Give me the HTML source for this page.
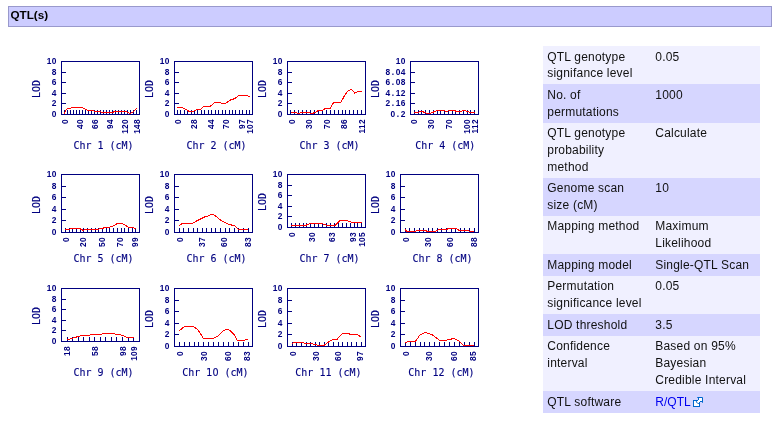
<!DOCTYPE html>
<html lang="en"><head><meta charset="utf-8"><title>QTL(s)</title>
<style>
html,body{margin:0;padding:0;background:#fff;}
#hdrw,#infow{position:absolute;left:0;top:0;width:779px;height:433px;will-change:transform;}
body{width:779px;height:433px;position:relative;overflow:hidden;font-family:"Liberation Sans",Arial,Helvetica,sans-serif;font-size:12px;color:#000;}
#hdr{position:absolute;left:8px;top:6px;width:760.5px;height:19px;line-height:16px;border:1px solid #9999cc;background:#ccccff;padding-left:1.5px;font-weight:bold;font-size:11.7px;color:#000;}
svg.qtl{position:absolute;overflow:visible;}
svg.qtl .tk{font-family:"Liberation Sans", Arial, sans-serif;font-weight:bold;font-size:8.4px;letter-spacing:0.33px;fill:#000080;}
svg.qtl .dg{font-family:"DejaVu Sans","Liberation Sans",sans-serif;font-size:9.6px;}
svg.qtl .tt{font-family:"DejaVu Sans Mono", "Liberation Mono", monospace;font-size:10px;fill:#000080;stroke:#000080;stroke-width:0.12px;}
#info{position:absolute;left:543px;top:46px;width:217px;border-collapse:collapse;border-spacing:0;table-layout:fixed;}
#info td{padding:2.5px 4px 2.4px 4.3px;line-height:16.7px;vertical-align:top;font-size:12px;color:#111;letter-spacing:0.2px;white-space:nowrap;overflow:hidden;}
#info tr:last-child td{padding-top:3.4px;}
#info tr.a{background:#f0f0ff;}
#info tr.b{background:#d6d6ff;}
#info a{color:#0000f0;text-decoration:none;letter-spacing:0;}
svg.ext{display:inline-block;margin-left:2.5px;vertical-align:-1px;}
</style></head><body>
<div id="hdrw"><div id="hdr">QTL(s)</div></div>
<div id="plots">
<svg class="qtl" style="left:30px;top:52px" width="113" height="113" viewBox="30 52 113 113">
<g stroke="#000080" stroke-width="1" fill="none" shape-rendering="crispEdges"><rect x="61.5" y="61.5" width="78" height="53"/><path d="M61.5 72.5h4.5M61.5 82.5h4.5M61.5 93.5h4.5M61.5 103.5h4.5M64.5 114.5v-5M67.5 114.5v-5M70.5 114.5v-5M73.5 114.5v-5M76.5 114.5v-5M79.5 114.5v-5M82.5 114.5v-5M85.5 114.5v-5M88.5 114.5v-5M91.5 114.5v-5M94.5 114.5v-5M97.5 114.5v-5M100.5 114.5v-5M103.5 114.5v-5M106.5 114.5v-5M109.5 114.5v-5M112.5 114.5v-5M115.5 114.5v-5M118.5 114.5v-5M121.5 114.5v-5M124.5 114.5v-5M127.5 114.5v-5M130.5 114.5v-5M133.5 114.5v-5M136.5 114.5v-5"/></g>
<polyline points="64,113.8 66.3,109.2 72.5,107.6 82.6,107.6 87.2,110.2 91.9,110.7 102.7,112.2 113.5,112.2 114.3,111.3 125.9,111.3 129.7,113.3 132,112.9 136.7,108.2" fill="none" stroke="#ff0000" stroke-width="1" stroke-linejoin="round" shape-rendering="crispEdges"/>
<g class="tk" text-anchor="end"><text transform="translate(56.8 64.1) scale(1 1)">10</text><text transform="translate(56.8 75.1) scale(1 1)">8</text><text transform="translate(56.8 85.1) scale(1 1)">6</text><text transform="translate(56.8 96.1) scale(1 1)">4</text><text transform="translate(56.8 106.1) scale(1 1)">2</text><text transform="translate(56.8 117.1) scale(1 1)">0</text></g>
<g class="tk" text-anchor="end"><text transform="translate(67.95 118.9) rotate(-90) scale(1 1)">0</text><text transform="translate(82.95 118.9) rotate(-90) scale(1 1)">40</text><text transform="translate(97.95 118.9) rotate(-90) scale(1 1)">66</text><text transform="translate(112.95 118.9) rotate(-90) scale(1 1)">94</text><text transform="translate(127.95 118.9) rotate(-90) scale(1 1)">120</text><text transform="translate(140.1 118.9) rotate(-90) scale(1 1)">148</text></g>
<text class="tt" text-anchor="middle" transform="translate(40.3 89) rotate(-90) scale(1 1.1)">LOD</text>
<text class="tt" text-anchor="middle" transform="translate(103.5 148.9) scale(1 1.1)">Chr 1 (cM)</text>
</svg>
<svg class="qtl" style="left:143px;top:52px" width="113" height="113" viewBox="143 52 113 113">
<g stroke="#000080" stroke-width="1" fill="none" shape-rendering="crispEdges"><rect x="174.5" y="61.5" width="78" height="53"/><path d="M174.5 72.5h4.5M174.5 82.5h4.5M174.5 93.5h4.5M174.5 103.5h4.5M177.5 114.5v-5M180.5 114.5v-5M184.5 114.5v-5M187.5 114.5v-5M191.5 114.5v-5M194.5 114.5v-5M197.5 114.5v-5M201.5 114.5v-5M204.5 114.5v-5M208.5 114.5v-5M211.5 114.5v-5M215.5 114.5v-5M218.5 114.5v-5M222.5 114.5v-5M225.5 114.5v-5M229.5 114.5v-5M232.5 114.5v-5M235.5 114.5v-5M239.5 114.5v-5M242.5 114.5v-5M246.5 114.5v-5M249.5 114.5v-5"/></g>
<polyline points="177.1,107.3 182,107.3 189.5,111.5 193.3,111.5 197.2,109.4 200.3,109.4 203.7,106.3 210.4,106.3 214.2,102.7 219.6,102.2 222,103.5 225,103.5 231.2,99.6 234.3,98.8 239,95.4 245.9,95.1 248.2,96.2 250.1,96.2" fill="none" stroke="#ff0000" stroke-width="1" stroke-linejoin="round" shape-rendering="crispEdges"/>
<g class="tk" text-anchor="end"><text transform="translate(169.8 64.1) scale(1 1)">10</text><text transform="translate(169.8 75.1) scale(1 1)">8</text><text transform="translate(169.8 85.1) scale(1 1)">6</text><text transform="translate(169.8 96.1) scale(1 1)">4</text><text transform="translate(169.8 106.1) scale(1 1)">2</text><text transform="translate(169.8 117.1) scale(1 1)">0</text></g>
<g class="tk" text-anchor="end"><text transform="translate(180.5 118.9) rotate(-90) scale(1 1)">0</text><text transform="translate(196.9 118.9) rotate(-90) scale(1 1)">28</text><text transform="translate(213.9 118.9) rotate(-90) scale(1 1)">44</text><text transform="translate(229.4 118.9) rotate(-90) scale(1 1)">70</text><text transform="translate(245.2 118.9) rotate(-90) scale(1 1)">97</text><text transform="translate(252.9 118.9) rotate(-90) scale(1 1)">107</text></g>
<text class="tt" text-anchor="middle" transform="translate(153.3 89) rotate(-90) scale(1 1.1)">LOD</text>
<text class="tt" text-anchor="middle" transform="translate(216.5 148.9) scale(1 1.1)">Chr 2 (cM)</text>
</svg>
<svg class="qtl" style="left:256px;top:52px" width="113" height="113" viewBox="256 52 113 113">
<g stroke="#000080" stroke-width="1" fill="none" shape-rendering="crispEdges"><rect x="287.5" y="61.5" width="78" height="53"/><path d="M287.5 72.5h4.5M287.5 82.5h4.5M287.5 93.5h4.5M287.5 103.5h4.5M290.5 114.5v-5M294.5 114.5v-5M298.5 114.5v-5M302.5 114.5v-5M306.5 114.5v-5M310.5 114.5v-5M314.5 114.5v-5M318.5 114.5v-5M322.5 114.5v-5M326.5 114.5v-5M330.5 114.5v-5M334.5 114.5v-5M338.5 114.5v-5M342.5 114.5v-5M345.5 114.5v-5M349.5 114.5v-5M353.5 114.5v-5M357.5 114.5v-5M361.5 114.5v-5"/></g>
<polyline points="290.9,112.4 295.5,112.4 298.3,113.5 301.4,112.4 309.1,112.4 311.4,113.5 314.5,112.8 318.4,110.4 322.3,110.4 326.1,108.1 330.5,108.1 333.6,102.4 340.8,102.4 344.7,95.4 347.8,91.1 350.9,89.3 352.7,90.3 354.7,93.1 357.8,91.4 361.7,91.4" fill="none" stroke="#ff0000" stroke-width="1" stroke-linejoin="round" shape-rendering="crispEdges"/>
<g class="tk" text-anchor="end"><text transform="translate(282.8 64.1) scale(1 1)">10</text><text transform="translate(282.8 75.1) scale(1 1)">8</text><text transform="translate(282.8 85.1) scale(1 1)">6</text><text transform="translate(282.8 96.1) scale(1 1)">4</text><text transform="translate(282.8 106.1) scale(1 1)">2</text><text transform="translate(282.8 117.1) scale(1 1)">0</text></g>
<g class="tk" text-anchor="end"><text transform="translate(294.5 118.9) rotate(-90) scale(1 1)">0</text><text transform="translate(311.8 118.9) rotate(-90) scale(1 1)">30</text><text transform="translate(329.6 118.9) rotate(-90) scale(1 1)">70</text><text transform="translate(347 118.9) rotate(-90) scale(1 1)">86</text><text transform="translate(364.7 118.9) rotate(-90) scale(1 1)">112</text></g>
<text class="tt" text-anchor="middle" transform="translate(266.3 89) rotate(-90) scale(1 1.1)">LOD</text>
<text class="tt" text-anchor="middle" transform="translate(329.5 148.9) scale(1 1.1)">Chr 3 (cM)</text>
</svg>
<svg class="qtl" style="left:369px;top:52px" width="113" height="113" viewBox="369 52 113 113">
<g stroke="#000080" stroke-width="1" fill="none" shape-rendering="crispEdges"><rect x="410.5" y="61.5" width="68" height="53"/><path d="M410.5 72.5h4.5M410.5 82.5h4.5M410.5 93.5h4.5M410.5 103.5h4.5M414.5 114.5v-5M418.5 114.5v-5M421.5 114.5v-5M425.5 114.5v-5M429.5 114.5v-5M433.5 114.5v-5M437.5 114.5v-5M440.5 114.5v-5M444.5 114.5v-5M448.5 114.5v-5M452.5 114.5v-5M455.5 114.5v-5M459.5 114.5v-5M463.5 114.5v-5M467.5 114.5v-5M470.5 114.5v-5M474.5 114.5v-5"/></g>
<polyline points="414.4,112.4 418.3,112.4 421.3,111.2 427.5,113.5 430.6,113.1 437.6,110.4 443,110.4 446.1,111.5 450,110.4 453.8,110.4 456.9,111.5 460.8,111.2 464.6,110.4 468.5,112 474.7,112.4" fill="none" stroke="#ff0000" stroke-width="1" stroke-linejoin="round" shape-rendering="crispEdges"/>
<g class="tk" text-anchor="end"><text transform="translate(405.8 64.1) scale(1 1)">10</text><text transform="translate(405.8 75.1) scale(1 1)">8<tspan dx="1.3">.</tspan><tspan dx="1.3">04</tspan></text><text transform="translate(405.8 85.1) scale(1 1)">6<tspan dx="1.3">.</tspan><tspan dx="1.3">08</tspan></text><text transform="translate(405.8 96.1) scale(1 1)">4<tspan dx="1.3">.</tspan><tspan dx="1.3">12</tspan></text><text transform="translate(405.8 106.1) scale(1 1)">2<tspan dx="1.3">.</tspan><tspan dx="1.3">16</tspan></text><text transform="translate(405.8 117.1) scale(1 1)">0<tspan dx="1.3">.</tspan><tspan dx="1.3">2</tspan></text></g>
<g class="tk" text-anchor="end"><text transform="translate(417.4 118.9) rotate(-90) scale(1 1)">0</text><text transform="translate(434.4 118.9) rotate(-90) scale(1 1)">30</text><text transform="translate(451.8 118.9) rotate(-90) scale(1 1)">70</text><text transform="translate(469.9 118.9) rotate(-90) scale(1 1)">100</text><text transform="translate(477.7 118.9) rotate(-90) scale(1 1)">112</text></g>
<text class="tt" text-anchor="middle" transform="translate(379.3 89) rotate(-90) scale(1 1.1)">LOD</text>
<text class="tt" text-anchor="middle" transform="translate(445.3 148.9) scale(1 1.1)">Chr 4 (cM)</text>
</svg>
<svg class="qtl" style="left:30px;top:165px" width="113" height="113" viewBox="30 165 113 113">
<g stroke="#000080" stroke-width="1" fill="none" shape-rendering="crispEdges"><rect x="61.5" y="174.5" width="78" height="58"/><path d="M61.5 186.5h4.5M61.5 197.5h4.5M61.5 209.5h4.5M61.5 220.5h4.5M65.5 232.5v-5M69.5 232.5v-5M72.5 232.5v-5M76.5 232.5v-5M80.5 232.5v-5M83.5 232.5v-5M87.5 232.5v-5M91.5 232.5v-5M95.5 232.5v-5M98.5 232.5v-5M102.5 232.5v-5M106.5 232.5v-5M109.5 232.5v-5M113.5 232.5v-5M117.5 232.5v-5M121.5 232.5v-5M124.5 232.5v-5M128.5 232.5v-5M132.5 232.5v-5M135.5 232.5v-5"/></g>
<polyline points="65.3,229.6 68.7,229.6 71,228.5 79.5,228.5 83.3,230.4 86.4,229.3 98,229.3 101.9,228.5 105.8,227.3 109.6,227.3 113.5,225.8 117.4,223.4 121.2,223.4 125.1,225 128.2,227.3 132.8,227.6 135.9,228.9" fill="none" stroke="#ff0000" stroke-width="1" stroke-linejoin="round" shape-rendering="crispEdges"/>
<g class="tk" text-anchor="end"><text transform="translate(56.8 177.1) scale(1 1)">10</text><text transform="translate(56.8 189.1) scale(1 1)">8</text><text transform="translate(56.8 200.1) scale(1 1)">6</text><text transform="translate(56.8 212.1) scale(1 1)">4</text><text transform="translate(56.8 223.1) scale(1 1)">2</text><text transform="translate(56.8 235.1) scale(1 1)">0</text></g>
<g class="tk" text-anchor="end"><text transform="translate(68.5 236.9) rotate(-90) scale(1 1)">0</text><text transform="translate(86.1 236.9) rotate(-90) scale(1 1)">20</text><text transform="translate(105.1 236.9) rotate(-90) scale(1 1)">50</text><text transform="translate(122.9 236.9) rotate(-90) scale(1 1)">70</text><text transform="translate(138.3 236.9) rotate(-90) scale(1 1)">99</text></g>
<text class="tt" text-anchor="middle" transform="translate(40.3 205) rotate(-90) scale(1 1.1)">LOD</text>
<text class="tt" text-anchor="middle" transform="translate(103.5 261.8) scale(1 1.1)">Chr 5 (cM)</text>
</svg>
<svg class="qtl" style="left:143px;top:165px" width="113" height="113" viewBox="143 165 113 113">
<g stroke="#000080" stroke-width="1" fill="none" shape-rendering="crispEdges"><rect x="174.5" y="174.5" width="78" height="58"/><path d="M174.5 186.5h4.5M174.5 197.5h4.5M174.5 209.5h4.5M174.5 220.5h4.5M179.5 232.5v-5M183.5 232.5v-5M188.5 232.5v-5M193.5 232.5v-5M197.5 232.5v-5M202.5 232.5v-5M206.5 232.5v-5M211.5 232.5v-5M215.5 232.5v-5M220.5 232.5v-5M225.5 232.5v-5M229.5 232.5v-5M234.5 232.5v-5M238.5 232.5v-5M243.5 232.5v-5M248.5 232.5v-5"/></g>
<polyline points="179.3,225.5 182.4,223.4 192.5,223.4 196.3,221.1 204.9,216.8 207.9,216.2 211,214.2 214.9,215.4 221.9,221.1 225,222.4 228.8,224.5 234.2,225.5 238.1,229.2 248.1,229.2" fill="none" stroke="#ff0000" stroke-width="1" stroke-linejoin="round" shape-rendering="crispEdges"/>
<g class="tk" text-anchor="end"><text transform="translate(169.8 177.1) scale(1 1)">10</text><text transform="translate(169.8 189.1) scale(1 1)">8</text><text transform="translate(169.8 200.1) scale(1 1)">6</text><text transform="translate(169.8 212.1) scale(1 1)">4</text><text transform="translate(169.8 223.1) scale(1 1)">2</text><text transform="translate(169.8 235.1) scale(1 1)">0</text></g>
<g class="tk" text-anchor="end"><text transform="translate(182.5 236.9) rotate(-90) scale(1 1)">0</text><text transform="translate(205.3 236.9) rotate(-90) scale(1 1)">37</text><text transform="translate(227.4 236.9) rotate(-90) scale(1 1)">60</text><text transform="translate(250.6 236.9) rotate(-90) scale(1 1)">83</text></g>
<text class="tt" text-anchor="middle" transform="translate(153.3 205) rotate(-90) scale(1 1.1)">LOD</text>
<text class="tt" text-anchor="middle" transform="translate(216.5 261.8) scale(1 1.1)">Chr 6 (cM)</text>
</svg>
<svg class="qtl" style="left:256px;top:165px" width="113" height="113" viewBox="256 165 113 113">
<g stroke="#000080" stroke-width="1" fill="none" shape-rendering="crispEdges"><rect x="287.5" y="174.5" width="78" height="53"/><path d="M287.5 185.5h4.5M287.5 195.5h4.5M287.5 206.5h4.5M287.5 216.5h4.5M291.5 227.5v-5M295.5 227.5v-5M299.5 227.5v-5M303.5 227.5v-5M306.5 227.5v-5M310.5 227.5v-5M314.5 227.5v-5M318.5 227.5v-5M322.5 227.5v-5M326.5 227.5v-5M330.5 227.5v-5M334.5 227.5v-5M338.5 227.5v-5M342.5 227.5v-5M346.5 227.5v-5M350.5 227.5v-5M354.5 227.5v-5M357.5 227.5v-5M361.5 227.5v-5"/></g>
<polyline points="291.3,225.5 305.5,225.5 310.1,223.4 320.9,223.4 327.1,225.5 334.9,225.5 340.3,220.3 345.7,220.3 348.8,221.4 351.9,222.4 361.9,222.4" fill="none" stroke="#ff0000" stroke-width="1" stroke-linejoin="round" shape-rendering="crispEdges"/>
<g class="tk" text-anchor="end"><text transform="translate(282.8 177.1) scale(1 1)">10</text><text transform="translate(282.8 188.1) scale(1 1)">8</text><text transform="translate(282.8 198.1) scale(1 1)">6</text><text transform="translate(282.8 209.1) scale(1 1)">4</text><text transform="translate(282.8 219.1) scale(1 1)">2</text><text transform="translate(282.8 230.1) scale(1 1)">0</text></g>
<g class="tk" text-anchor="end"><text transform="translate(294.8 231.9) rotate(-90) scale(1 1)">0</text><text transform="translate(315.2 231.9) rotate(-90) scale(1 1)">30</text><text transform="translate(335 231.9) rotate(-90) scale(1 1)">63</text><text transform="translate(355.8 231.9) rotate(-90) scale(1 1)">93</text><text transform="translate(365.1 231.9) rotate(-90) scale(1 1)">105</text></g>
<text class="tt" text-anchor="middle" transform="translate(266.3 202) rotate(-90) scale(1 1.1)">LOD</text>
<text class="tt" text-anchor="middle" transform="translate(329.5 261.8) scale(1 1.1)">Chr 7 (cM)</text>
</svg>
<svg class="qtl" style="left:369px;top:165px" width="113" height="113" viewBox="369 165 113 113">
<g stroke="#000080" stroke-width="1" fill="none" shape-rendering="crispEdges"><rect x="400.5" y="174.5" width="78" height="58"/><path d="M400.5 186.5h4.5M400.5 197.5h4.5M400.5 209.5h4.5M400.5 220.5h4.5M405.5 232.5v-5M409.5 232.5v-5M414.5 232.5v-5M419.5 232.5v-5M423.5 232.5v-5M428.5 232.5v-5M432.5 232.5v-5M437.5 232.5v-5M441.5 232.5v-5M446.5 232.5v-5M451.5 232.5v-5M455.5 232.5v-5M460.5 232.5v-5M464.5 232.5v-5M469.5 232.5v-5M474.5 232.5v-5"/></g>
<polyline points="405.3,229.6 406.9,231.2 415.4,231.2 417.7,230.1 424.7,230.1 427,231.2 435.5,231.2 440.1,229.2 447.1,229.2 449.4,228.2 455.6,228.2 459.5,230.7 474.1,231.2" fill="none" stroke="#ff0000" stroke-width="1" stroke-linejoin="round" shape-rendering="crispEdges"/>
<g class="tk" text-anchor="end"><text transform="translate(395.8 177.1) scale(1 1)">10</text><text transform="translate(395.8 189.1) scale(1 1)">8</text><text transform="translate(395.8 200.1) scale(1 1)">6</text><text transform="translate(395.8 212.1) scale(1 1)">4</text><text transform="translate(395.8 223.1) scale(1 1)">2</text><text transform="translate(395.8 235.1) scale(1 1)">0</text></g>
<g class="tk" text-anchor="end"><text transform="translate(408.5 236.9) rotate(-90) scale(1 1)">0</text><text transform="translate(431.3 236.9) rotate(-90) scale(1 1)">30</text><text transform="translate(452.9 236.9) rotate(-90) scale(1 1)">60</text><text transform="translate(476.6 236.9) rotate(-90) scale(1 1)">88</text></g>
<text class="tt" text-anchor="middle" transform="translate(379.3 205) rotate(-90) scale(1 1.1)">LOD</text>
<text class="tt" text-anchor="middle" transform="translate(442.5 261.8) scale(1 1.1)">Chr 8 (cM)</text>
</svg>
<svg class="qtl" style="left:30px;top:279px" width="113" height="113" viewBox="30 279 113 113">
<g stroke="#000080" stroke-width="1" fill="none" shape-rendering="crispEdges"><rect x="61.5" y="288.5" width="78" height="53"/><path d="M61.5 299.5h4.5M61.5 309.5h4.5M61.5 320.5h4.5M61.5 330.5h4.5M67.5 341.5v-5M72.5 341.5v-5M78.5 341.5v-5M83.5 341.5v-5M89.5 341.5v-5M94.5 341.5v-5M100.5 341.5v-5M105.5 341.5v-5M111.5 341.5v-5M116.5 341.5v-5M122.5 341.5v-5M128.5 341.5v-5M133.5 341.5v-5"/></g>
<polyline points="67.1,339.8 74.8,337.5 81.8,335.4 88.8,335.4 93.4,334.1 101.9,334.1 104.2,333.3 113.5,333.3 115.8,334.4 119.7,334.4 127.4,337.5 133.6,337.5" fill="none" stroke="#ff0000" stroke-width="1" stroke-linejoin="round" shape-rendering="crispEdges"/>
<g class="tk" text-anchor="end"><text transform="translate(56.8 291.1) scale(1 1)">10</text><text transform="translate(56.8 302.1) scale(1 1)">8</text><text transform="translate(56.8 312.1) scale(1 1)">6</text><text transform="translate(56.8 323.1) scale(1 1)">4</text><text transform="translate(56.8 333.1) scale(1 1)">2</text><text transform="translate(56.8 344.1) scale(1 1)">0</text></g>
<g class="tk" text-anchor="end"><text transform="translate(70.3 345.9) rotate(-90) scale(1 1)">18</text><text transform="translate(97.8 345.9) rotate(-90) scale(1 1)">58</text><text transform="translate(125.7 345.9) rotate(-90) scale(1 1)">98</text><text transform="translate(136.8 345.9) rotate(-90) scale(1 1)">109</text></g>
<text class="tt" text-anchor="middle" transform="translate(40.3 316) rotate(-90) scale(1 1.1)">LOD</text>
<text class="tt" text-anchor="middle" transform="translate(103.5 376.1) scale(1 1.1)">Chr 9 (cM)</text>
</svg>
<svg class="qtl" style="left:143px;top:279px" width="113" height="113" viewBox="143 279 113 113">
<g stroke="#000080" stroke-width="1" fill="none" shape-rendering="crispEdges"><rect x="174.5" y="288.5" width="78" height="58"/><path d="M174.5 300.5h4.5M174.5 311.5h4.5M174.5 323.5h4.5M174.5 334.5h4.5M179.5 346.5v-5M184.5 346.5v-5M189.5 346.5v-5M194.5 346.5v-5M198.5 346.5v-5M203.5 346.5v-5M208.5 346.5v-5M213.5 346.5v-5M218.5 346.5v-5M223.5 346.5v-5M228.5 346.5v-5M233.5 346.5v-5M238.5 346.5v-5M243.5 346.5v-5M248.5 346.5v-5"/></g>
<polyline points="179.3,330.6 184.8,326.4 193.3,326.4 197.1,329.2 199.4,331.8 203.3,338.5 213.4,338.5 218,336 223.4,330.6 227.3,329.2 229.6,330.3 234.2,334.9 237.3,340.3 244.3,340.3 245.8,339.4 248.1,339.4" fill="none" stroke="#ff0000" stroke-width="1" stroke-linejoin="round" shape-rendering="crispEdges"/>
<g class="tk" text-anchor="end"><text transform="translate(169.8 291.1) scale(1 1)">10</text><text transform="translate(169.8 303.1) scale(1 1)">8</text><text transform="translate(169.8 314.1) scale(1 1)">6</text><text transform="translate(169.8 326.1) scale(1 1)">4</text><text transform="translate(169.8 337.1) scale(1 1)">2</text><text transform="translate(169.8 349.1) scale(1 1)">0</text></g>
<g class="tk" text-anchor="end"><text transform="translate(182.5 350.9) rotate(-90) scale(1 1)">0</text><text transform="translate(206.5 350.9) rotate(-90) scale(1 1)">30</text><text transform="translate(231.2 350.9) rotate(-90) scale(1 1)">60</text><text transform="translate(250.1 350.9) rotate(-90) scale(1 1)">83</text></g>
<text class="tt" text-anchor="middle" transform="translate(153.3 319) rotate(-90) scale(1 1.1)">LOD</text>
<text class="tt" text-anchor="middle" transform="translate(215.4 376.1) scale(1 1.1)">Chr <tspan class="dg">10</tspan> (cM)</text>
</svg>
<svg class="qtl" style="left:256px;top:279px" width="113" height="113" viewBox="256 279 113 113">
<g stroke="#000080" stroke-width="1" fill="none" shape-rendering="crispEdges"><rect x="287.5" y="288.5" width="78" height="58"/><path d="M287.5 300.5h4.5M287.5 311.5h4.5M287.5 323.5h4.5M287.5 334.5h4.5M292.5 346.5v-5M296.5 346.5v-5M301.5 346.5v-5M306.5 346.5v-5M310.5 346.5v-5M315.5 346.5v-5M319.5 346.5v-5M324.5 346.5v-5M328.5 346.5v-5M333.5 346.5v-5M338.5 346.5v-5M342.5 346.5v-5M347.5 346.5v-5M351.5 346.5v-5M356.5 346.5v-5M361.5 346.5v-5"/></g>
<polyline points="292.3,343.4 294.7,342.2 302.4,342.2 304.7,343.4 311.7,343.4 314.8,344.6 317.9,345.3 324,345.3 328.7,341.9 333.3,339.2 337.2,339.2 342.6,333.3 348,333.3 350.3,334.4 356.5,334.4 361.1,336.8" fill="none" stroke="#ff0000" stroke-width="1" stroke-linejoin="round" shape-rendering="crispEdges"/>
<g class="tk" text-anchor="end"><text transform="translate(282.8 291.1) scale(1 1)">10</text><text transform="translate(282.8 303.1) scale(1 1)">8</text><text transform="translate(282.8 314.1) scale(1 1)">6</text><text transform="translate(282.8 326.1) scale(1 1)">4</text><text transform="translate(282.8 337.1) scale(1 1)">2</text><text transform="translate(282.8 349.1) scale(1 1)">0</text></g>
<g class="tk" text-anchor="end"><text transform="translate(295.5 350.9) rotate(-90) scale(1 1)">0</text><text transform="translate(318.7 350.9) rotate(-90) scale(1 1)">30</text><text transform="translate(340.7 350.9) rotate(-90) scale(1 1)">60</text><text transform="translate(363.1 350.9) rotate(-90) scale(1 1)">97</text></g>
<text class="tt" text-anchor="middle" transform="translate(266.3 319) rotate(-90) scale(1 1.1)">LOD</text>
<text class="tt" text-anchor="middle" transform="translate(328.4 376.1) scale(1 1.1)">Chr 11 (cM)</text>
</svg>
<svg class="qtl" style="left:369px;top:279px" width="113" height="113" viewBox="369 279 113 113">
<g stroke="#000080" stroke-width="1" fill="none" shape-rendering="crispEdges"><rect x="400.5" y="288.5" width="78" height="58"/><path d="M400.5 300.5h4.5M400.5 311.5h4.5M400.5 323.5h4.5M400.5 334.5h4.5M405.5 346.5v-5M410.5 346.5v-5M415.5 346.5v-5M420.5 346.5v-5M424.5 346.5v-5M429.5 346.5v-5M434.5 346.5v-5M439.5 346.5v-5M444.5 346.5v-5M449.5 346.5v-5M454.5 346.5v-5M459.5 346.5v-5M464.5 346.5v-5M469.5 346.5v-5M474.5 346.5v-5"/></g>
<polyline points="405.3,342.6 409.2,341.4 415.4,341.4 420,334.9 425.4,332.3 432.4,334.9 439.4,340.3 446.3,340.3 447.9,339.2 451,339.2 453.3,338.3 458.7,340.6 463.3,345.3 474.1,345.3" fill="none" stroke="#ff0000" stroke-width="1" stroke-linejoin="round" shape-rendering="crispEdges"/>
<g class="tk" text-anchor="end"><text transform="translate(395.8 291.1) scale(1 1)">10</text><text transform="translate(395.8 303.1) scale(1 1)">8</text><text transform="translate(395.8 314.1) scale(1 1)">6</text><text transform="translate(395.8 326.1) scale(1 1)">4</text><text transform="translate(395.8 337.1) scale(1 1)">2</text><text transform="translate(395.8 349.1) scale(1 1)">0</text></g>
<g class="tk" text-anchor="end"><text transform="translate(408.5 350.9) rotate(-90) scale(1 1)">0</text><text transform="translate(432.2 350.9) rotate(-90) scale(1 1)">30</text><text transform="translate(457.2 350.9) rotate(-90) scale(1 1)">60</text><text transform="translate(476.1 350.9) rotate(-90) scale(1 1)">85</text></g>
<text class="tt" text-anchor="middle" transform="translate(379.3 319) rotate(-90) scale(1 1.1)">LOD</text>
<text class="tt" text-anchor="middle" transform="translate(441.4 376.1) scale(1 1.1)">Chr 12 (cM)</text>
</svg>
</div>
<div id="infow"><table id="info"><colgroup><col style="width:108px"><col style="width:109px"></colgroup><tbody>
<tr class="a"><td>QTL genotype<br>signifance level</td><td>0.05</td></tr>
<tr class="b"><td>No. of<br>permutations</td><td>1000</td></tr>
<tr class="a"><td>QTL genotype<br>probability<br>method</td><td>Calculate</td></tr>
<tr class="b"><td>Genome scan<br>size (cM)</td><td>10</td></tr>
<tr class="a"><td>Mapping method</td><td>Maximum<br>Likelihood</td></tr>
<tr class="b"><td>Mapping model</td><td>Single-QTL Scan</td></tr>
<tr class="a"><td>Permutation<br>significance level</td><td>0.05</td></tr>
<tr class="b"><td>LOD threshold</td><td>3.5</td></tr>
<tr class="a"><td>Confidence<br>interval</td><td>Based on 95%<br>Bayesian<br>Credible Interval</td></tr>
<tr class="b"><td>QTL software</td><td><a href="#">R/QTL</a><svg class="ext" width="10" height="10" viewBox="0 0 10 10"><rect x="0.5" y="3.5" width="6" height="6" fill="#fff" stroke="#0066cc"/><path d="M4.5 0.5H9.5V5.5L8 4L5.2 6.8L3.2 4.8L6 2Z" fill="#fff" stroke="#0066cc" stroke-linejoin="round"/></svg></td></tr>
</tbody></table></div>
</body></html>
